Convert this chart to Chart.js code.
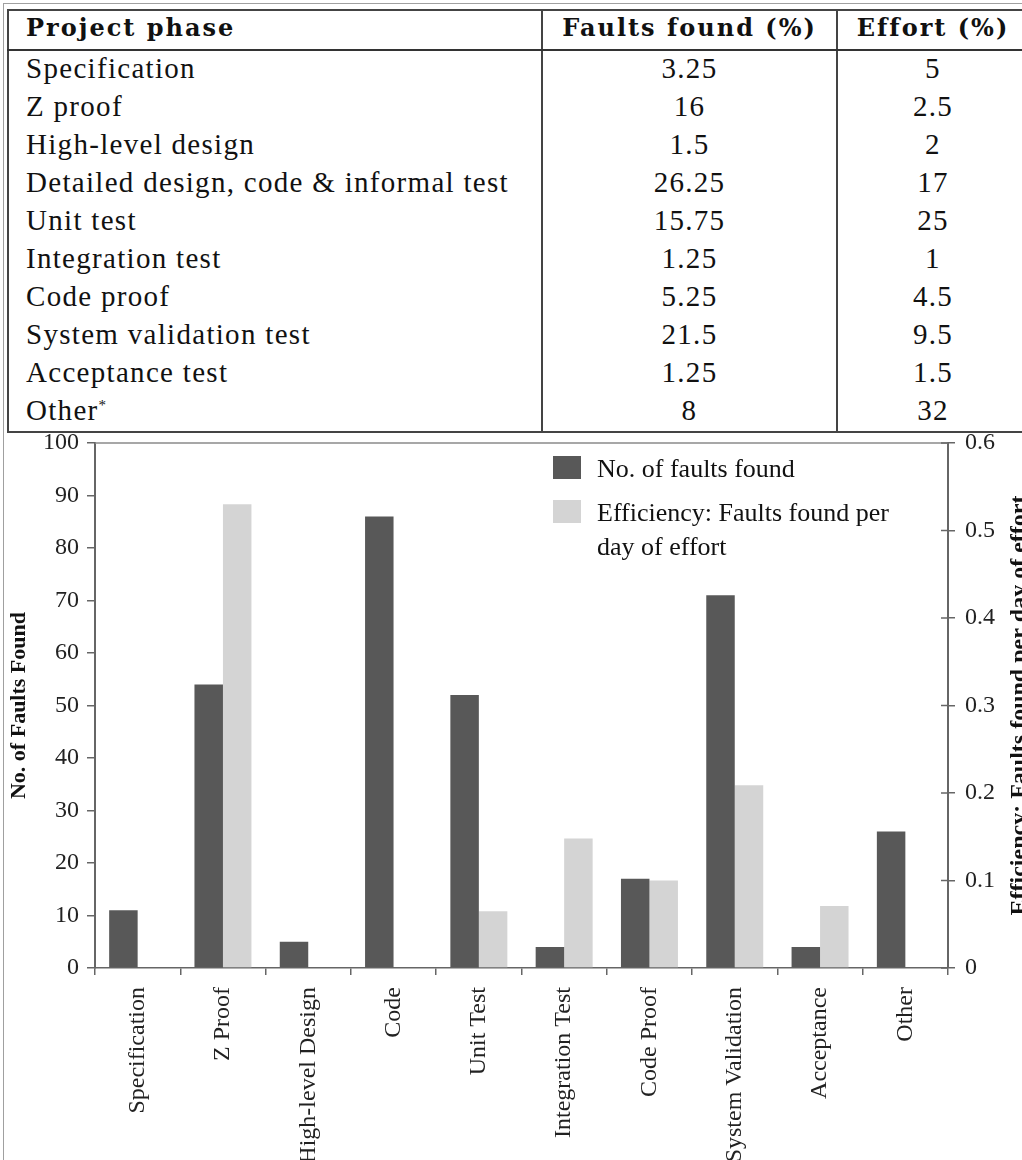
<!DOCTYPE html>
<html>
<head>
<meta charset="utf-8">
<script src="https://cdn.jsdelivr.net/npm/chart.js@4.4.0/dist/chart.umd.min.js"></script>
<style>
  html, body { margin: 0; padding: 0; background: #fff; }
  #page { position: relative; width: 1022px; height: 1160px; overflow: hidden; background: #fff; }
  #frame { position: absolute; left: 3px; top: 3px; width: 1200px; height: 1300px;
           border-left: 1px solid #a0a0a0; border-top: 1px solid #a0a0a0; }
  table { position: absolute; left: 7px; top: 9px; width: 1021px; table-layout: fixed;
          border-collapse: collapse; border: 2px solid #444;
          font-family: "Liberation Serif", serif; font-size: 29px; color: #111; letter-spacing: 1.3px; }
  th, td { padding: 0 0 4px 0; border-left: 2px solid #444; border-right: 2px solid #444; line-height: 1; }
  th { height: 33px; padding-bottom: 5px; font-family: "DejaVu Serif", serif; font-size: 24px; letter-spacing: 2px;
       border-bottom: 2px solid #333; }
  td { height: 34px; }
  th.l, td.l { text-align: left; padding-left: 17px; }
  .c { text-align: center; }
  #wrap { position: absolute; left: 5px; top: 432px; width: 1017px; height: 728px; }
</style>
</head>
<body>
<div id="page">
  <div id="frame"></div>
  <table id="tbl">
    <colgroup><col style="width:534px"><col style="width:295px"><col style="width:192px"></colgroup>
    <thead><tr id="head"></tr></thead>
    <tbody id="rows"></tbody>
  </table>
  <div id="wrap"><canvas id="faultChart" width="1017" height="728"></canvas></div>
</div>
<script>
  // table data
  const tableHeaders = ['Project phase', 'Faults found (%)', 'Effort (%)'];
  const phases = ['Specification', 'Z proof', 'High-level design', 'Detailed design, code & informal test',
    'Unit test', 'Integration test', 'Code proof', 'System validation test', 'Acceptance test', 'Other'];
  const faultsPct = ['3.25', '16', '1.5', '26.25', '15.75', '1.25', '5.25', '21.5', '1.25', '8'];
  const effortPct = ['5', '2.5', '2', '17', '25', '1', '4.5', '9.5', '1.5', '32'];

  // chart data
  const categories = ['Specification', 'Z Proof', 'High-level Design', 'Code', 'Unit Test',
    'Integration Test', 'Code Proof', 'System Validation', 'Acceptance', 'Other'];
  const faultsFound = [11, 54, 5, 86, 52, 4, 17, 71, 4, 26];
  const efficiency = [null, 0.53, null, null, 0.065, 0.148, 0.1, 0.209, 0.071, null];

  const head = document.getElementById('head');
  tableHeaders.forEach((h, i) => {
    const th = document.createElement('th');
    th.className = i === 0 ? 'l' : 'c';
    th.textContent = h;
    head.appendChild(th);
  });
  const body = document.getElementById('rows');
  phases.forEach((p, i) => {
    const tr = document.createElement('tr');
    const a = document.createElement('td'); a.className = 'l';
    a.textContent = p;
    if (p === 'Other') a.innerHTML = 'Other<sup style="font-size:15px;vertical-align:10px">*</sup>';
    const b = document.createElement('td'); b.className = 'c'; b.textContent = faultsPct[i];
    const c = document.createElement('td'); c.className = 'c'; c.textContent = effortPct[i];
    tr.append(a, b, c);
    body.appendChild(tr);
  });

  const serif = '"Liberation Serif", "Times New Roman", serif';
  const tickFont = { family: serif, size: 24 };

  // keep the plot box where it is: no extra room for half tick labels
  const noPad = s => { s.paddingTop = 0; s.paddingBottom = 0; s.paddingLeft = 0; s.paddingRight = 0; };

  // box top line, inner halves of right ticks, legend and axis titles
  const extras = {
    id: 'extras',
    afterDraw(chart) {
      const ctx = chart.ctx, a = chart.chartArea;
      ctx.save();
      ctx.strokeStyle = '#8a8a8a';
      ctx.lineWidth = 1.5;
      ctx.beginPath();
      ctx.moveTo(a.left, a.top); ctx.lineTo(a.right, a.top);
      ctx.stroke();

      const r = chart.scales.y1;
      ctx.strokeStyle = '#666';
      r.ticks.forEach((t, i) => {
        const y = r.getPixelForTick(i);
        ctx.beginPath(); ctx.moveTo(a.right - 7, y); ctx.lineTo(a.right, y); ctx.stroke();
      });

      // legend
      const lx = a.left + 458, tx = a.left + 502;
      let y = a.top + 13;
      ctx.font = '26px ' + serif;
      ctx.fillStyle = '#111';
      ctx.textBaseline = 'alphabetic';
      chart.data.datasets.forEach(ds => {
        ctx.fillStyle = ds.backgroundColor;
        ctx.fillRect(lx, y, 28, 23);
        ctx.fillStyle = '#111';
        const words = ds.label.split(' ');
        const lines = [];
        let cur = '';
        words.forEach(w => {
          const t = cur ? cur + ' ' + w : w;
          if (ctx.measureText(t).width > 310 && cur) { lines.push(cur); cur = w; } else cur = t;
        });
        lines.push(cur);
        lines.forEach((ln, k) => ctx.fillText(ln, tx, y + 21 + k * 34));
        y += 44 + (lines.length - 1) * 34;
      });

      // axis titles, both reading bottom to top
      const cy = (a.top + a.bottom) / 2;
      ctx.fillStyle = '#111';
      ctx.textAlign = 'center';
      ctx.font = 'bold 22px ' + serif;
      ctx.translate(20, cy); ctx.rotate(-Math.PI / 2);
      ctx.fillText('No. of Faults Found', 0, 0);
      ctx.setTransform(1, 0, 0, 1, 0, 0);
      ctx.font = 'bold 24px ' + serif;
      ctx.translate(1021, cy); ctx.rotate(-Math.PI / 2);
      ctx.fillText('Efficiency: Faults found per day of effort', 0, 0);
      ctx.restore();
    }
  };

  new Chart(document.getElementById('faultChart'), {
    type: 'bar',
    data: {
      labels: categories,
      datasets: [
        { label: 'No. of faults found', data: faultsFound, backgroundColor: '#585858', yAxisID: 'y' },
        { label: 'Efficiency: Faults found per day of effort', data: efficiency, backgroundColor: '#d4d4d4', yAxisID: 'y1' }
      ]
    },
    options: {
      responsive: false,
      animation: false,
      layout: { padding: { top: 11 } },
      datasets: { bar: { categoryPercentage: 0.668, barPercentage: 1 } },
      plugins: { legend: { display: false }, tooltip: { enabled: false } },
      scales: {
        x: {
          grid: { offset: true, drawOnChartArea: false, tickLength: 7, color: '#666', lineWidth: 1.5 },
          border: { color: '#666', width: 1.5 },
          ticks: { minRotation: 90, maxRotation: 90, autoSkip: false, padding: 12, font: tickFont, color: '#222' },
          afterFit: s => { s.height = 192; noPad(s); }
        },
        y: {
          position: 'left', min: 0, max: 100,
          grid: { drawOnChartArea: false, tickLength: 8, color: '#666', lineWidth: 1.5 },
          border: { color: '#666', width: 2 },
          ticks: { stepSize: 10, padding: 8, font: tickFont, color: '#222' },
          afterFit: s => { s.width = 90; noPad(s); }
        },
        y1: {
          position: 'right', min: 0, max: 0.6,
          grid: { drawOnChartArea: false, tickLength: 7, color: '#666', lineWidth: 1.5 },
          border: { color: '#666', width: 2 },
          ticks: { stepSize: 0.1, padding: 10, font: tickFont, color: '#222',
                   callback: v => v === 0 ? '0' : v.toFixed(1) },
          afterFit: s => { s.width = 74; noPad(s); }
        }
      }
    },
    plugins: [extras]
  });
</script>
</body>
</html>
